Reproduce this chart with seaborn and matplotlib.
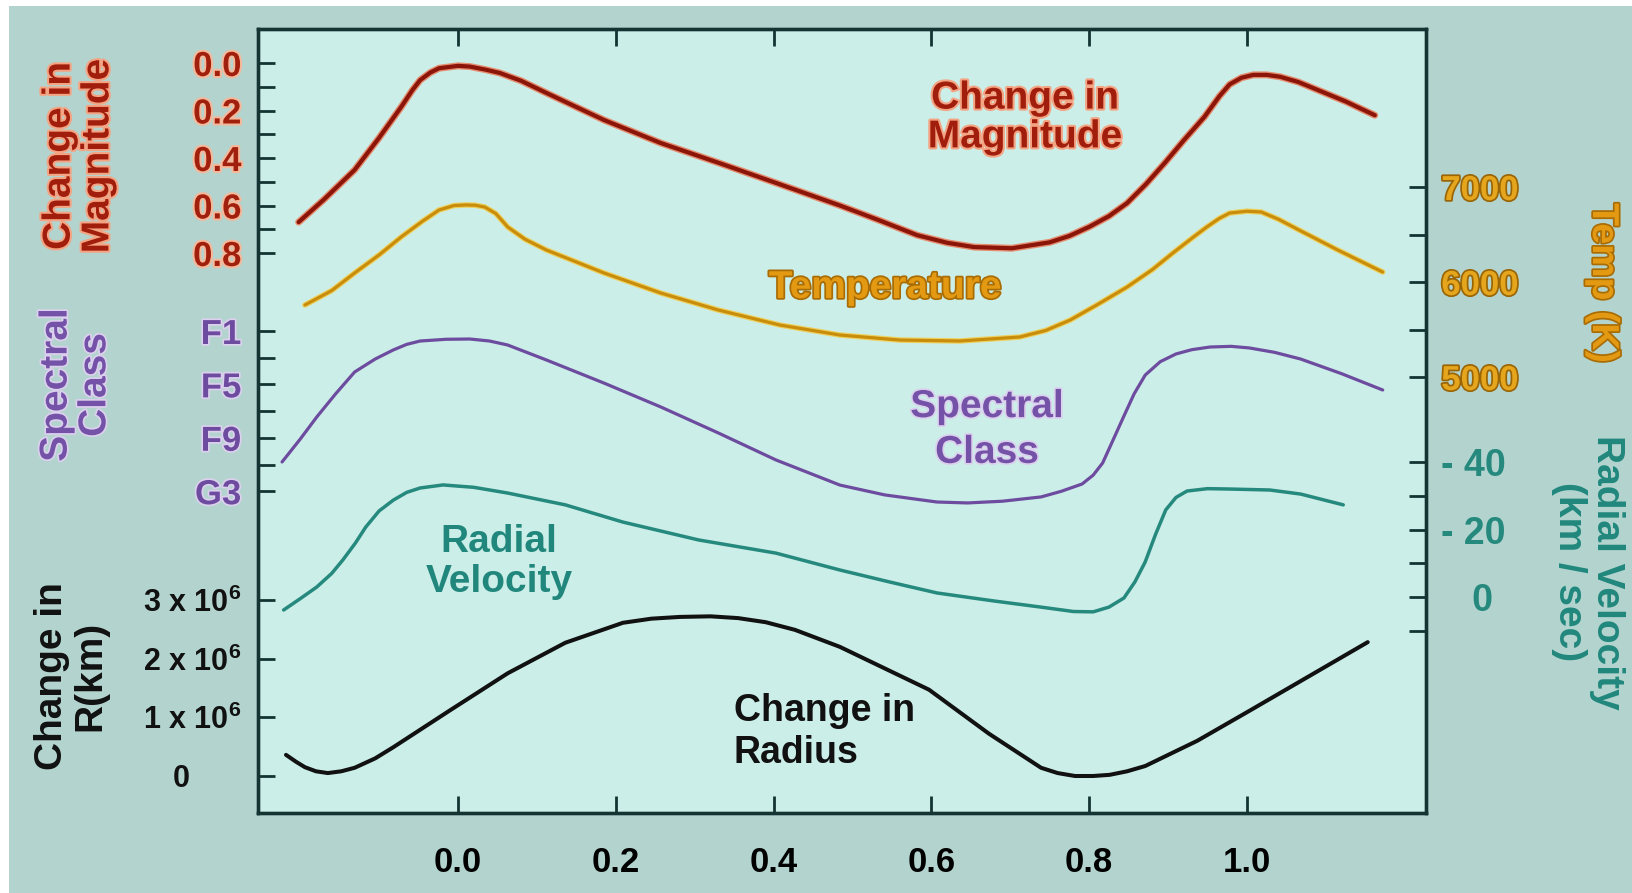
import numpy as np
import pandas as pd
import matplotlib
matplotlib.use("Agg")
import matplotlib.pyplot as plt
import matplotlib.patheffects as pe
from matplotlib.patches import Rectangle
import seaborn as sns

# ---------------- data (phase of pulsation cycle) ----------------
mag_phase = [-0.202, -0.17, -0.131, -0.10, -0.072, -0.058, -0.048, -0.035, -0.024, 0.0, 0.015, 0.035,
             0.053, 0.08, 0.112, 0.185, 0.257, 0.330, 0.403, 0.484, 0.532, 0.582, 0.62, 0.654, 0.702,
             0.750, 0.775, 0.800, 0.825, 0.848, 0.872, 0.896, 0.92, 0.946, 0.965, 0.978, 0.993, 1.008,
             1.025, 1.042, 1.065, 1.090, 1.125, 1.162]
mag_values = [0.67, 0.575, 0.45, 0.315, 0.185, 0.115, 0.072, 0.04, 0.022, 0.012, 0.015, 0.028,
              0.042, 0.075, 0.126, 0.24, 0.337, 0.42, 0.505, 0.60, 0.66, 0.725, 0.757, 0.775, 0.78,
              0.755, 0.728, 0.69, 0.645, 0.59, 0.51, 0.42, 0.325, 0.227, 0.14, 0.09, 0.062, 0.05,
              0.05, 0.058, 0.08, 0.114, 0.162, 0.22]

temp_phase = [-0.194, -0.16, -0.131, -0.10, -0.072, -0.045, -0.024, -0.005, 0.010, 0.022, 0.034, 0.048,
              0.063, 0.085, 0.112, 0.185, 0.257, 0.330, 0.408, 0.484, 0.560, 0.636, 0.712, 0.745,
              0.776, 0.81, 0.848, 0.88, 0.906, 0.93, 0.949, 0.965, 0.978, 1.0, 1.018, 1.04,
              1.066, 1.115, 1.172]
temp_values = [5758, 5910, 6095, 6285, 6474, 6640, 6758, 6805, 6811, 6808, 6789, 6720,
               6579, 6450, 6337, 6095, 5884, 5705, 5547, 5442, 5389, 5379, 5421, 5490,
               5600, 5760, 5947, 6130, 6305, 6460, 6579, 6670, 6726, 6745, 6737, 6660,
               6547, 6337, 6105]

# spectral subclass number: F0 = 0 ... F9 = 9, G0 = 10 ... G3 = 13
spec_phase = [-0.223, -0.20, -0.179, -0.155, -0.131, -0.105, -0.082, -0.065, -0.048, -0.015, 0.015,
              0.04, 0.063, 0.112, 0.185, 0.257, 0.330, 0.403, 0.484, 0.541, 0.607, 0.646, 0.69,
              0.739, 0.765, 0.791, 0.805, 0.817, 0.83, 0.844, 0.857, 0.871, 0.89, 0.910, 0.93,
              0.953, 0.98, 1.003, 1.035, 1.068, 1.12, 1.172]
spec_values = [10.81, 9.1, 7.44, 5.7, 4.07, 3.1, 2.42, 2.0, 1.75, 1.62, 1.60,
               1.75, 2.05, 3.17, 4.90, 6.69, 8.64, 10.66, 12.54, 13.28, 13.81, 13.88, 13.75,
               13.43, 13.0, 12.46, 11.8, 10.89, 9.2, 7.37, 5.7, 4.30, 3.3, 2.72, 2.4,
               2.2, 2.15, 2.27, 2.6, 3.10, 4.2, 5.42]

vel_phase = [-0.221, -0.20, -0.179, -0.16, -0.146, -0.13, -0.117, -0.10, -0.082, -0.065, -0.048,
             -0.019, 0.02, 0.063, 0.136, 0.209, 0.305, 0.403, 0.484, 0.548, 0.607, 0.68, 0.739,
             0.78, 0.805, 0.825, 0.844, 0.858, 0.871, 0.884, 0.897, 0.91, 0.924, 0.95, 0.976,
             1.029, 1.068, 1.122]
vel_values = [3.85, 0.5, -2.96, -7.0, -10.96, -16.0, -20.7, -25.5, -28.7, -31.0, -32.3,
              -33.2, -32.5, -30.8, -27.3, -22.2, -16.9, -13.0, -8.0, -4.4, -1.2, 1.2, 3.0,
              4.3, 4.4, 3.0, 0.3, -4.5, -10.4, -18.5, -25.8, -29.5, -31.4, -32.1, -32.0,
              -31.7, -30.5, -27.3]

# change in radius, units of 10^6 km
rad_phase = [-0.218, -0.205, -0.194, -0.18, -0.165, -0.148, -0.131, -0.105, -0.082, -0.010, 0.063,
             0.136, 0.209, 0.245, 0.281, 0.32, 0.355, 0.39, 0.427, 0.484, 0.597, 0.673, 0.739,
             0.76, 0.782, 0.805, 0.826, 0.848, 0.871, 0.937, 1.003, 1.153]
rad_values = [0.36, 0.24, 0.15, 0.08, 0.05, 0.08, 0.14, 0.30, 0.49, 1.12, 1.75,
              2.27, 2.61, 2.68, 2.71, 2.72, 2.69, 2.62, 2.49, 2.20, 1.47, 0.72, 0.14,
              0.05, 0.0, 0.0, 0.02, 0.08, 0.17, 0.60, 1.11, 2.28]

x_ticks = [0.0, 0.2, 0.4, 0.6, 0.8, 1.0]
x_tick_labels = ["0.0", "0.2", "0.4", "0.6", "0.8", "1.0"]
mag_ticks = [0.0, 0.1, 0.2, 0.3, 0.4, 0.5, 0.6, 0.7, 0.8]
mag_tick_labels = ["0.0", "", "0.2", "", "0.4", "", "0.6", "", "0.8"]
spec_ticks = [1, 3, 5, 7, 9, 11, 13]
spec_tick_labels = ["F1", "", "F5", "", "F9", "", "G3"]
rad_ticks = [3, 2, 1, 0]
rad_tick_labels = [r"3 x 10$^{\mathbf{6}}$", r"2 x 10$^{\mathbf{6}}$", r"1 x 10$^{\mathbf{6}}$", "0      "]
temp_ticks = [7000, 6500, 6000, 5500, 5000]
temp_tick_labels = ["7000", "", "6000", "", "5000"]
vel_ticks = [-40, -30, -20, -10, 0, 10]
vel_tick_labels = ["- 40", "", "- 20", "", "   0", ""]

# ---------------- style ----------------
sns.set_style("ticks")
plt.rcParams['font.family'] = ['Liberation Sans', 'DejaVu Sans']
plt.rcParams['font.weight'] = 'bold'
plt.rcParams['mathtext.fontset'] = 'custom'
plt.rcParams['mathtext.rm'] = 'Liberation Sans:bold'
plt.rcParams['mathtext.bf'] = 'Liberation Sans:bold'

C_MAG, C_MAG_GLOW = '#8A1508', '#EE6A45'
C_TEMP, C_TEMP_GLOW = '#C98D0C', '#F7C93A'
C_SPEC = '#6D4C9F'
C_VEL = '#26897E'
C_RAD = '#111111'
C_FRAME = '#143434'

W, H = 1632, 893
fig = plt.figure(figsize=(W / 100, H / 100), dpi=100)
fig.patch.set_facecolor('white')
fig.add_artist(Rectangle((9 / W, 0), 1, 1 - 6 / H, transform=fig.transFigure,
                         facecolor='#B3D4CE', edgecolor='none', zorder=-10))

L, R, T, B = 258, 1426, 29, 813
ax = fig.add_axes([L / W, 1 - B / H, (R - L) / W, (B - T) / H])
ax.set_facecolor('#CBEEE8')

# each quantity has its own vertical scale stacked in one panel
PX0, PXU = 458, 789
def mag_pos(v): return 63 + 237.5 * np.asarray(v, float)
def temp_pos(v): return 187 + (7000 - np.asarray(v, float)) * 0.095
def spec_pos(v): return 331 + (np.asarray(v, float) - 1) * 13.35
def vel_pos(v): return 597 + 3.375 * np.asarray(v, float)
def rad_pos(v): return 776 - 58.7 * np.asarray(v, float)

series = [
    (mag_phase, mag_pos(mag_values), C_MAG, 3.0, [pe.Stroke(linewidth=5.0, foreground=C_MAG_GLOW, alpha=0.75), pe.Normal()]),
    (temp_phase, temp_pos(temp_values), C_TEMP, 2.3, [pe.Stroke(linewidth=4.0, foreground=C_TEMP_GLOW, alpha=0.8), pe.Normal()]),
    (spec_phase, spec_pos(spec_values), C_SPEC, 2.3, None),
    (vel_phase, vel_pos(vel_values), C_VEL, 2.5, None),
    (rad_phase, rad_pos(rad_values), C_RAD, 2.9, None),
]
for xs, ys, col, lw, effects in series:
    df = pd.DataFrame({"phase": xs, "pos": ys})
    sns.lineplot(data=df, x="phase", y="pos", ax=ax, color=col, linewidth=lw,
                 sort=False, estimator=None)
    line = ax.lines[-1]
    line.set_solid_joinstyle('round')
    line.set_solid_capstyle('round')
    if effects:
        line.set_path_effects(effects)

ax.set_xlim((L - PX0) / PXU, (R - PX0) / PXU)
ax.set_ylim(B, T)
ax.set_xlabel("")
ax.set_ylabel("")

for sp in ax.spines.values():
    sp.set_linewidth(2.4)
    sp.set_color(C_FRAME)

ax.set_xticks(x_ticks)
ax.set_xticklabels(x_tick_labels)
ax.tick_params(axis='x', direction='in', length=12, width=2, top=True, bottom=True,
               pad=24, labelsize=25, color=C_FRAME, labelcolor='black')

left_pos = list(mag_pos(mag_ticks)) + list(spec_pos(spec_ticks)) + list(rad_pos(rad_ticks))
left_lab = mag_tick_labels + spec_tick_labels + rad_tick_labels
ax.set_yticks(left_pos)
ax.set_yticklabels(left_lab)
ax.tick_params(axis='y', direction='in', length=12, width=2, left=True, right=False,
               pad=12, color=C_FRAME)
n1, n2 = len(mag_ticks), len(spec_ticks)
for i, lbl in enumerate(ax.get_yticklabels()):
    if i < n1:
        lbl.set_color('#A0200D'); lbl.set_fontsize(25)
        lbl.set_path_effects([pe.withStroke(linewidth=3, foreground='#F5B89A')])
    elif i < n1 + n2:
        lbl.set_color(C_SPEC); lbl.set_fontsize(25)
        lbl.set_path_effects([pe.withStroke(linewidth=2.5, foreground='#DCD0EE')])
    else:
        lbl.set_color('#111111'); lbl.set_fontsize(22)

ax2 = ax.twinx()
ax2.set_ylim(B, T)
right_pos = list(temp_pos(temp_ticks)) + list(vel_pos(vel_ticks))
right_lab = temp_tick_labels + vel_tick_labels
ax2.set_yticks(right_pos)
ax2.set_yticklabels(right_lab)
ax2.tick_params(axis='y', direction='in', length=12, width=2, right=True, left=False,
                pad=11, color=C_FRAME)
for sp in ax2.spines.values():
    sp.set_linewidth(2.4)
    sp.set_color(C_FRAME)
nt = len(temp_ticks)
for i, lbl in enumerate(ax2.get_yticklabels()):
    if i < nt:
        lbl.set_color('#E5A51C'); lbl.set_fontsize(25)
        lbl.set_path_effects([pe.withStroke(linewidth=2.5, foreground='#9A6505')])
    else:
        lbl.set_color(C_VEL); lbl.set_fontsize(27)

# ---------------- in-plot labels ----------------
def px2x(X): return (X - PX0) / PXU
FS = 28
ax.text(px2x(1025), 118, "Change in\nMagnitude", color='#A11D0C', fontsize=FS, ha='center', va='center',
        linespacing=1.1, path_effects=[pe.withStroke(linewidth=3, foreground='#F4A483')])
ax.text(px2x(885), 288, "Temperature", color='#E39A12', fontsize=FS, ha='center', va='center',
        path_effects=[pe.withStroke(linewidth=2.5, foreground='#A96C04')])
ax.text(px2x(987), 430, "Spectral\nClass", color='#7352A7', fontsize=FS, ha='center', va='center',
        linespacing=1.35, path_effects=[pe.withStroke(linewidth=2.5, foreground='#DCD0EE')])
ax.text(px2x(499), 562, "Radial\nVelocity", color='#21877C', fontsize=FS, ha='center', va='center',
        linespacing=1.15)
ax.text(px2x(734), 732, "Change in\nRadius", color='#111111', fontsize=FS - 1, ha='left', va='center',
        multialignment='left', linespacing=1.2)

# ---------------- axis titles ----------------
def fpos(X, Y): return X / W, 1 - Y / H
fig.text(*fpos(79, 156), "Change in\nMagnitude", rotation=90, color='#A11D0C', fontsize=FS,
         ha='center', va='center', linespacing=1.1,
         path_effects=[pe.withStroke(linewidth=3, foreground='#F4A483')])
fig.text(*fpos(76, 385), "Spectral\nClass", rotation=90, color='#7352A7', fontsize=FS,
         ha='center', va='center', linespacing=1.1,
         path_effects=[pe.withStroke(linewidth=2.5, foreground='#DCD0EE')])
fig.text(*fpos(71, 676), "Change in\nR(km)", rotation=90, color='#111111', fontsize=FS,
         ha='center', va='center', linespacing=1.1)
fig.text(*fpos(1603, 283), "Temp (K)", rotation=270, color='#E39A12', fontsize=FS - 1,
         ha='center', va='center', path_effects=[pe.withStroke(linewidth=2.5, foreground='#A96C04')])
fig.text(*fpos(1588, 572), "Radial Velocity\n(km / sec)", rotation=270, color='#21877C', fontsize=FS,
         ha='center', va='center', linespacing=1.05)

fig.savefig("out.png", dpi=100, facecolor=fig.get_facecolor())
